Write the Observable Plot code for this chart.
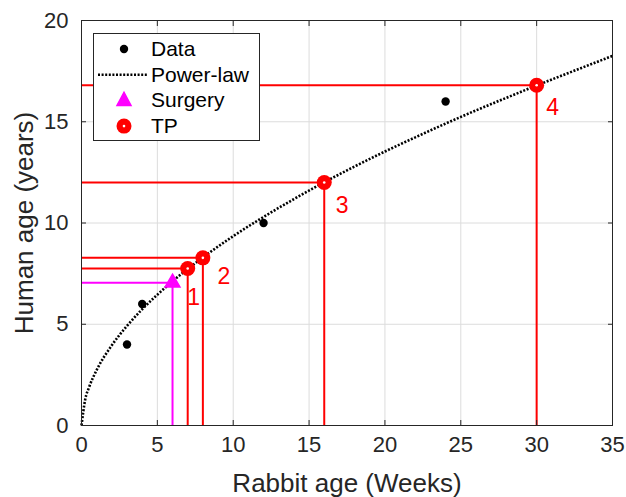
<!DOCTYPE html>
<html><head><meta charset="utf-8">
<script src="https://cdn.jsdelivr.net/npm/d3@7"></script>
<script src="https://cdn.jsdelivr.net/npm/@observablehq/plot@0.6"></script>
<style>
body{margin:0;background:#fff;font-family:"Liberation Sans",Arial,sans-serif;}
#wrap{position:relative;width:626px;height:497px;}
#legend{position:absolute;left:93px;top:33px;width:167px;height:108px;box-sizing:border-box;border:1px solid #262626;background:#fff;font-size:21px;color:#000;}
#legend .row{position:absolute;left:0;height:24px;line-height:24px;}
#legend .row span{position:absolute;left:57px;white-space:nowrap;}
#legend svg{position:absolute;left:0;top:0;}
</style></head><body>
<div id="wrap"><div id="chart"></div>
<div id="legend"></div></div>
<script>
// Observed data
const dataX = [3, 4, 12, 24];
const dataY = [4, 6, 10, 16];
// Power-law fit curve
const fitX = [0, 0.25, 0.5, 1, 2, 3, 4, 5, 6, 7, 8, 10, 12, 14, 16, 18, 20, 22, 24, 26, 28, 30, 32, 35];
const fitY = [0, 1.31, 1.89, 2.74, 3.96, 4.92, 5.74, 6.46, 7.12, 7.73, 8.30, 9.35, 10.30, 11.18, 12.01, 12.79, 13.53, 14.23, 14.91, 15.56, 16.18, 16.79, 17.38, 18.25];
// Surgery
const surgX = [6];
const surgY = [7.05];
// Time points
const tpX = [7, 8, 16, 30];
const tpY = [7.75, 8.28, 12, 16.8];
const tpLabel = ["1", "2", "3", "4"];
const xTicks = [0, 5, 10, 15, 20, 25, 30, 35];
const yTicks = [0, 5, 10, 15, 20];
const xLabel = "Rabbit age (Weeks)";
const yLabel = "Human age (years)";

// label offsets (style)
const tpDx = [6, 21, 18, 16];
const tpDy = [29, 19, 23, 22];

const data = dataX.map((x, i) => ({x, y: dataY[i]}));
const fit = fitX.map((x, i) => ({x, y: fitY[i]}));
const surg = surgX.map((x, i) => ({x, y: surgY[i]}));
const tp = tpX.map((x, i) => ({x, y: tpY[i], label: tpLabel[i], dx: tpDx[i], dy: tpDy[i]}));

const ink = "#262626";
const dotted = {stroke: "#000", strokeWidth: 2.6, strokeDasharray: "2,1.6", strokeLinecap: "butt"};
const chart = Plot.plot({
  width: 626, height: 497,
  marginLeft: 81, marginRight: 14, marginTop: 20, marginBottom: 72,
  style: {fontFamily: "'Liberation Sans', Arial, sans-serif", fontSize: "22px", color: ink, background: "#fff"},
  x: {domain: [0, 35], ticks: xTicks},
  y: {domain: [0, 20], ticks: yTicks},
  marks: [
    Plot.gridX(xTicks, {stroke: "#dcdcdc", strokeOpacity: 1}),
    Plot.gridY(yTicks, {stroke: "#dcdcdc", strokeOpacity: 1}),
    // red guide lines
    Plot.ruleY(tp, {x1: 0, x2: "x", y: "y", stroke: "#ff0000", strokeWidth: 2}),
    Plot.ruleX(tp, {y1: 0, y2: "y", x: "x", stroke: "#ff0000", strokeWidth: 2}),
    Plot.ruleY(surg, {x1: 0, x2: "x", y: "y", stroke: "#ff00ff", strokeWidth: 2}),
    Plot.ruleX(surg, {y1: 0, y2: "y", x: "x", stroke: "#ff00ff", strokeWidth: 2}),
    Plot.line(fit, {x: "x", y: "y", ...dotted, curve: "monotone-x"}),
    Plot.dot(data, {x: "x", y: "y", r: 4.2, fill: "#000"}),
    Plot.dot(surg, {x: "x", y: "y", symbol: "triangle", r: 5.5, fill: "#ff00ff", stroke: "#ff00ff", strokeWidth: 1.5}),
    Plot.dot(tp, {x: "x", y: "y", r: 7.5, fill: "#ff0000"}),
    Plot.dot(tp, {x: "x", y: "y", r: 1.3, fill: "#fff"}),
    ...tp.map(d => Plot.text([d], {x: "x", y: "y", text: "label", dx: d.dx, dy: d.dy, fill: "#ff0000", fontSize: 23})),
    Plot.frame({stroke: ink, strokeWidth: 1}),
    Plot.axisX({ticks: xTicks, tickSize: -5, tickPadding: 16, stroke: ink, fill: ink, label: null, fontSize: 22}),
    Plot.axisX({ticks: xTicks, anchor: "top", tickSize: -5, tickFormat: () => "", label: null, stroke: ink}),
    Plot.axisY({ticks: yTicks, tickSize: -5, tickPadding: 18, stroke: ink, fill: ink, label: null, fontSize: 22}),
    Plot.axisY({ticks: yTicks, anchor: "right", tickSize: -5, tickFormat: () => "", label: null, stroke: ink}),
    Plot.text([xLabel], {frameAnchor: "bottom", dy: 66, lineAnchor: "bottom", fontSize: 26, fill: ink}),
    Plot.text([yLabel], {frameAnchor: "left", dx: -49, rotate: -90, textAnchor: "middle", lineAnchor: "bottom", fontSize: 26, fill: ink})
  ]
});
document.getElementById("chart").appendChild(chart);

// legend
const items = [
  {name: "Data", kind: "dot"},
  {name: "Power-law", kind: "line"},
  {name: "Surgery", kind: "tri"},
  {name: "TP", kind: "tp"}
];
const lg = document.getElementById("legend");
let svg = '<svg width="60" height="108">';
items.forEach((it, i) => {
  const cy = 15 + i * 25.7;
  if (it.kind === "dot") svg += `<circle cx="30" cy="${cy}" r="4.2" fill="#000"/>`;
  if (it.kind === "line") svg += `<line x1="4" x2="54" y1="${cy}" y2="${cy}" stroke="#000" stroke-width="2.6" stroke-dasharray="2,1.6"/>`;
  if (it.kind === "tri") svg += `<path d="M30,${cy-8} L37,${cy+5} L23,${cy+5}Z" fill="#ff00ff" stroke="#ff00ff" stroke-width="1.5"/>`;
  if (it.kind === "tp") svg += `<circle cx="30" cy="${cy}" r="7.5" fill="#ff0000"/><circle cx="30" cy="${cy}" r="1.3" fill="#fff"/>`;
});
svg += '</svg>';
lg.innerHTML = svg + items.map((it, i) => `<div class="row" style="top:${3 + i * 25.7}px"><span>${it.name}</span></div>`).join("");
</script>
</body></html>
